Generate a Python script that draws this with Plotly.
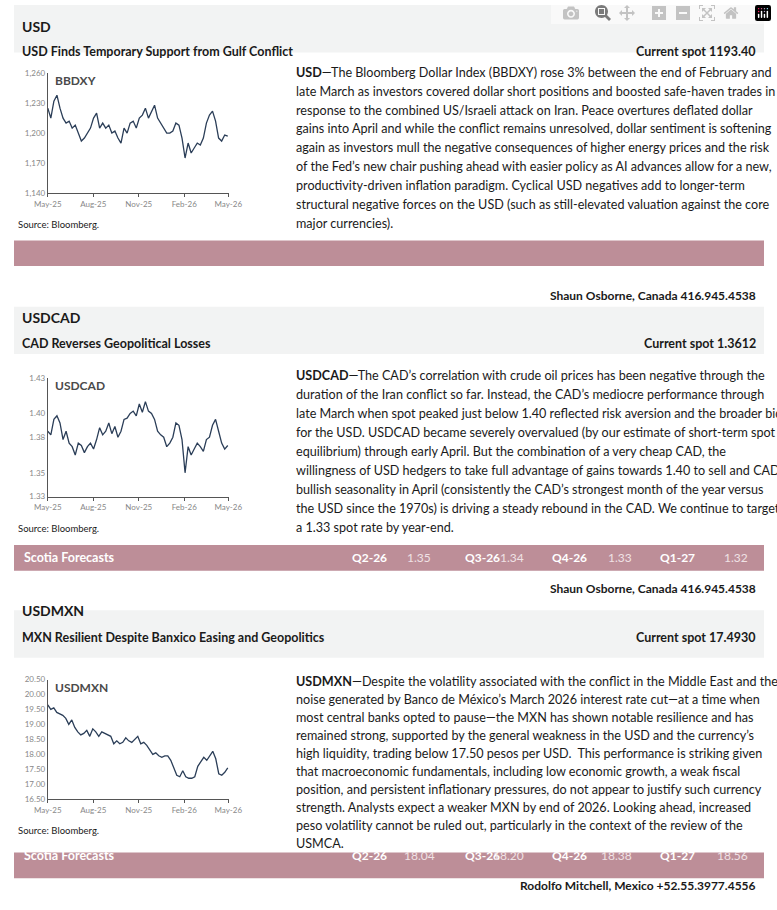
import pandas as pd
import plotly.graph_objects as go

W, H = 777, 910

# ---- data (approx. weekly) ----
bbdxy = [1225, 1215, 1232, 1238, 1225, 1215, 1210, 1212, 1205, 1208, 1200, 1192, 1195, 1200,
         1205, 1215, 1220, 1205, 1210, 1205, 1208, 1200, 1202, 1195, 1190, 1205, 1200, 1210,
         1212, 1205, 1215, 1218, 1225, 1215, 1222, 1228, 1215, 1210, 1205, 1200, 1200, 1202,
         1210, 1208, 1195, 1175, 1190, 1180, 1185, 1190, 1188, 1195, 1210, 1218, 1222, 1212,
         1195, 1192, 1198, 1197]
usdcad = [1.385, 1.382, 1.395, 1.398, 1.392, 1.378, 1.385, 1.375, 1.372, 1.365, 1.375, 1.373,
          1.367, 1.372, 1.375, 1.370, 1.378, 1.388, 1.382, 1.385, 1.392, 1.383, 1.389, 1.380,
          1.385, 1.395, 1.396, 1.400, 1.402, 1.398, 1.408, 1.401, 1.410, 1.402, 1.400, 1.395,
          1.385, 1.382, 1.380, 1.372, 1.375, 1.380, 1.392, 1.390, 1.378, 1.350, 1.372, 1.365,
          1.370, 1.375, 1.372, 1.368, 1.378, 1.380, 1.390, 1.395, 1.385, 1.375, 1.370, 1.373]
usdmxn = [19.65, 19.5, 19.55, 19.4, 19.35, 19.3, 19.2, 19.0, 19.15, 18.9, 18.75, 18.65, 18.7,
          18.8, 18.6, 18.85, 18.75, 18.6, 18.75, 18.7, 18.65, 18.6, 18.35, 18.45, 18.35, 18.4,
          18.55, 18.45, 18.4, 18.5, 18.6, 18.35, 18.4, 18.3, 18.15, 18.0, 18.05, 17.95, 17.9,
          17.95, 17.95, 17.8, 17.55, 17.3, 17.25, 17.45, 17.25, 17.2, 17.2, 17.25, 17.6, 17.75,
          17.9, 17.8, 17.95, 18.1, 17.85, 17.35, 17.3, 17.4, 17.55]
tick_dates = ["2025-05-01", "2025-08-01", "2025-11-01", "2026-02-01", "2026-05-01"]
tick_text = ["May-25", "Aug-25", "Nov-25", "Feb-26", "May-26"]

quarters = ["Q2-26", "Q3-26", "Q4-26", "Q1-27"]
cad_fc = ["1.35", "1.34", "1.33", "1.32"]
mxn_fc = ["18.04", "18.20", "18.38", "18.56"]

FONT = "Lato"
DARK = "#1a1a1a"
MAUVE = "#bd8e98"
GREYBG = "#f2f3f3"


def py(y):
    return 1 - y / H


def px(x):
    return x / W


fig = go.Figure()
shapes, anns = [], []

charts = [
    ("BBDXY", bbdxy, (69, 190), [1140, 1260], [1140, 1170, 1200, 1230, 1260], ",.0f"),
    ("USDCAD", usdcad, (377, 497), [1.33, 1.43], [1.33, 1.35, 1.38, 1.40, 1.43], ".2f"),
    ("USDMXN", usdmxn, (682, 803), [16.5, 20.5], [16.5 + 0.5 * i for i in range(9)], ".2f"),
]
for i, (name, vals, (top, bot), rng, tv, fmt) in enumerate(charts, start=1):
    dates = pd.date_range("2025-05-01", "2026-04-30", periods=len(vals))
    fig.add_trace(go.Scatter(x=dates, y=vals, mode="lines", xaxis=f"x{i}", yaxis=f"y{i}",
                             line=dict(color="#2b3e58", width=1.3), showlegend=False))
    xa = dict(domain=[px(35), px(223)], anchor=f"y{i}", range=["2025-05-01", "2026-05-03"],
              tickvals=tick_dates, ticktext=tick_text, showline=True, linecolor="#555",
              ticks="outside", ticklen=3, tickcolor="#555", showgrid=False,
              tickfont=dict(family=FONT, size=8, color="#888"))
    ya = dict(domain=[py(bot), py(top)], anchor=f"x{i}", range=rng, tickvals=tv,
              tickformat=fmt, showline=True, linecolor="#555", showgrid=False,
              tickfont=dict(family=FONT, size=8, color="#888"))
    fig.update_layout(**{f"xaxis{i}": xa, f"yaxis{i}": ya})
    anns.append(dict(x=px(40), y=py(top - 2), xref="paper", yref="paper", text=f"<b>{name}</b>",
                     showarrow=False, xanchor="left", yanchor="top",
                     font=dict(family=FONT, size=12, color="#4a4a4a")))
    anns.append(dict(x=px(2), y=py(bot + 32), xref="paper", yref="paper", text="Source: Bloomberg.",
                     showarrow=False, xanchor="left", yanchor="middle",
                     font=dict(family=FONT, size=9.5, color=DARK)))

sections = [
    (0, "USD", "USD Finds Temporary Support from Gulf Conflict", "Current spot 1193.40"),
    (305, "USDCAD", "CAD Reverses Geopolitical Losses", "Current spot 1.3612"),
    (612, "USDMXN", "MXN Resilient Despite Banxico Easing and Geopolitics", "Current spot 17.4930"),
]
for top, code, title, spot in sections:
    shapes.append(dict(type="rect", xref="paper", yref="paper", x0=0, x1=1, y0=py(top + 48),
                       y1=py(top), fillcolor=GREYBG, line_width=0, layer="below"))
    anns.append(dict(x=px(6), y=py(top + 11), xref="paper", yref="paper", text=f"<b>{code}</b>",
                     showarrow=False, xanchor="left", font=dict(family=FONT, size=14, color=DARK)))
    anns.append(dict(x=px(6), y=py(top + 37), xref="paper", yref="paper", text=f"<b>{title}</b>",
                     showarrow=False, xanchor="left", font=dict(family=FONT, size=12.5, color=DARK)))
    anns.append(dict(x=px(771), y=py(top + 37), xref="paper", yref="paper", text=f"<b>{spot}</b>",
                     showarrow=False, xanchor="right", font=dict(family=FONT, size=12.5, color=DARK)))

paras = [
    (68, 19.1, [
        "<b>USD</b>—The Bloomberg Dollar Index (BBDXY) rose 3% between the end of February and",
        "late March as investors covered dollar short positions and boosted safe-haven trades in",
        "response to the combined US/Israeli attack on Iran. Peace overtures deflated dollar",
        "gains into April and while the conflict remains unresolved, dollar sentiment is softening",
        "again as investors mull the negative consequences of higher energy prices and the risk",
        "of the Fed’s new chair pushing ahead with easier policy as AI advances allow for a new,",
        "productivity-driven inflation paradigm. Cyclical USD negatives add to longer-term",
        "structural negative forces on the USD (such as still-elevated valuation against the core",
        "major currencies)."]),
    (375, 19.1, [
        "<b>USDCAD</b>—The CAD’s correlation with crude oil prices has been negative through the",
        "duration of the Iran conflict so far. Instead, the CAD’s mediocre performance through",
        "late March when spot peaked just below 1.40 reflected risk aversion and the broader bid",
        "for the USD. USDCAD became severely overvalued (by our estimate of short-term spot",
        "equilibrium) through early April. But the combination of a very cheap CAD, the",
        "willingness of USD hedgers to take full advantage of gains towards 1.40 to sell and CAD-",
        "bullish seasonality in April (consistently the CAD’s strongest month of the year versus",
        "the USD since the 1970s) is driving a steady rebound in the CAD. We continue to target",
        "a 1.33 spot rate by year-end."]),
    (684, 18.2, [
        "<b>USDMXN</b>—Despite the volatility associated with the conflict in the Middle East and the",
        "noise generated by Banco de México’s March 2026 interest rate cut—at a time when",
        "most central banks opted to pause—the MXN has shown notable resilience and has",
        "remained strong, supported by the general weakness in the USD and the currency’s",
        "high liquidity, trading below 17.50 pesos per USD.  This performance is striking given",
        "that macroeconomic fundamentals, including low economic growth, a weak fiscal",
        "position, and persistent inflationary pressures, do not appear to justify such currency",
        "strength. Analysts expect a weaker MXN by end of 2026. Looking ahead, increased",
        "peso volatility cannot be ruled out, particularly in the context of the review of the",
        "USMCA."]),
]
for y0, dy, lines in paras:
    for k, line in enumerate(lines):
        anns.append(dict(x=px(290), y=py(y0 + k * dy), xref="paper", yref="paper", text=line,
                         showarrow=False, xanchor="left", yanchor="middle",
                         font=dict(family=FONT, size=12.6, color=DARK)))

bars = [(238, None), (546, cad_fc), (857, mxn_fc)]
for top, fc in bars:
    shapes.append(dict(type="rect", xref="paper", yref="paper", x0=0, x1=1, y0=py(top + 26),
                       y1=py(top), fillcolor=MAUVE, line_width=0, layer="below"))
    if fc is None:
        continue
    yc = py(top + 13)
    anns.append(dict(x=px(8), y=yc, xref="paper", yref="paper", text="<b>Scotia Forecasts</b>",
                     showarrow=False, xanchor="left", font=dict(family=FONT, size=12.5, color="white")))
    for q, v, qx, vx in zip(quarters, fc, [368, 485, 596, 708], [420, 530, 642, 762]):
        anns.append(dict(x=px(qx), y=yc, xref="paper", yref="paper", text=f"<b>{q}</b>",
                         showarrow=False, font=dict(family=FONT, size=12, color="white")))
        anns.append(dict(x=px(vx), y=yc, xref="paper", yref="paper", text=v,
                         showarrow=False, font=dict(family=FONT, size=12, color="#f0e2e5")))

authors = [(284, "Shaun Osborne, Canada 416.945.4538"), (590, "Shaun Osborne, Canada 416.945.4538"),
           (900, "Rodolfo Mitchell, Mexico +52.55.3977.4556")]
for y, t in authors:
    anns.append(dict(x=px(771), y=py(y), xref="paper", yref="paper", text=f"<b>{t}</b>",
                     showarrow=False, xanchor="right", font=dict(family=FONT, size=12, color=DARK)))

fig.update_layout(width=W, height=H, margin=dict(l=0, r=0, t=0, b=0),
                  paper_bgcolor="white", plot_bgcolor="white",
                  shapes=shapes, annotations=anns)
fig.write_html("out.html",
               post_script="document.body.style.margin='0';document.body.style.overflow='hidden';")
